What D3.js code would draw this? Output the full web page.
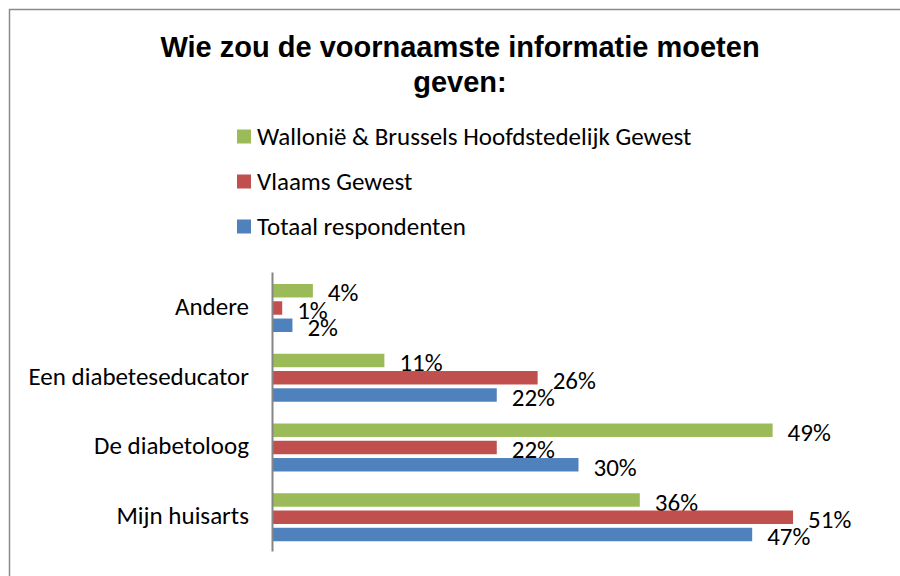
<!DOCTYPE html>
<html>
<head>
<meta charset="utf-8">
<script src="https://cdn.jsdelivr.net/npm/d3@7"></script>
<style>
  body { margin: 0; background: #fff; }
  svg text { font-family: Carlito, Lato, "Noto Sans", sans-serif; fill: #000; }
  svg .title { font-family: "Liberation Sans", Arial, sans-serif; font-weight: bold; }
</style>
</head>
<body>
<div id="chart"></div>
<script>
// categories, top to bottom
const categories = ["Andere", "Een diabeteseducator", "De diabetoloog", "Mijn huisarts"];

// series (legend order)
const seriesNames = ["Wallonië & Brussels Hoofdstedelijk Gewest", "Vlaams Gewest", "Totaal respondenten"];
const seriesColors = ["#9bbb59", "#c0504d", "#4f81bd"];

// values per category, same order as categories
const wallonieBrussel = [0.04, 0.11, 0.49, 0.36];
const vlaamsGewest = [0.01, 0.26, 0.22, 0.51];
const totaal = [0.02, 0.22, 0.30, 0.47];

const titleLines = ["Wie zou de voornaamste informatie moeten", "geven:"];

const width = 900;
const height = 576;

const svg = d3
  .select("#chart")
  .append("svg")
  .attr("width", width)
  .attr("height", height);

// kader rond de grafiek
svg
  .append("rect")
  .attr("x", 9.5)
  .attr("y", 9.5)
  .attr("width", 900)
  .attr("height", 600)
  .attr("fill", "none")
  .attr("stroke", "#8a8a8a")
  .attr("stroke-width", 1.5);

// titel
svg
  .append("text")
  .attr("class", "title")
  .attr("text-anchor", "middle")
  .style("font-size", "29px")
  .selectAll("tspan")
  .data(titleLines)
  .enter()
  .append("tspan")
  .attr("x", 460)
  .attr("y", (d, i) => 57 + i * 35)
  .text((d) => d);

// legenda
const legend = svg
  .selectAll(".legend")
  .data(seriesNames)
  .enter()
  .append("g")
  .attr("class", "legend")
  .attr("transform", (d, i) => `translate(237,${136.5 + i * 45})`);

legend
  .append("rect")
  .attr("x", 0)
  .attr("y", -7)
  .attr("width", 14)
  .attr("height", 14)
  .attr("fill", (d, i) => seriesColors[i]);

legend
  .append("text")
  .attr("x", 20)
  .attr("y", 0)
  .attr("dy", "0.35em")
  .style("font-size", "25px")
  .text((d) => d);

// data in rijen
const rows = categories.map((c, i) => ({
  category: c,
  values: [wallonieBrussel[i], vlaamsGewest[i], totaal[i]],
}));

const y = d3.scaleBand().domain(categories).range([272, 551]);

const ySeries = d3
  .scaleBand()
  .domain(d3.range(seriesNames.length))
  .range([12, 60])
  .paddingInner(0.22);

const x = d3.scaleLinear().domain([0, 0.6]).range([272, 885]);

const fmt = d3.format(".0%");

const groups = svg
  .selectAll(".group")
  .data(rows)
  .enter()
  .append("g")
  .attr("class", "group")
  .attr("transform", (d) => `translate(0,${y(d.category)})`);

const bars = groups
  .selectAll("g")
  .data((d) => d.values.map((v, i) => ({ v, i })))
  .enter()
  .append("g");

bars
  .append("rect")
  .attr("x", x(0))
  .attr("y", (d) => ySeries(d.i))
  .attr("width", (d) => x(d.v) - x(0))
  .attr("height", ySeries.bandwidth())
  .attr("fill", (d) => seriesColors[d.i]);

bars
  .append("text")
  .attr("x", (d) => x(d.v) + 15)
  .attr("y", (d) => ySeries(d.i) + ySeries.bandwidth() / 2 + 2)
  .attr("dy", "0.35em")
  .style("font-size", "25px")
  .text((d) => fmt(d.v));

// as met categorieën
const axis = svg
  .append("g")
  .attr("transform", `translate(${x(0)},0)`)
  .call(d3.axisLeft(y).tickSize(0).tickSizeOuter(0).tickPadding(23));

axis.select(".domain").attr("stroke", "#868686").attr("stroke-width", 2);
axis
  .selectAll("text")
  .style("font-size", "25px")
  .style("font-family", "Carlito, Lato, 'Noto Sans', sans-serif")
  .attr("fill", "#000");
</script>
</body>
</html>
